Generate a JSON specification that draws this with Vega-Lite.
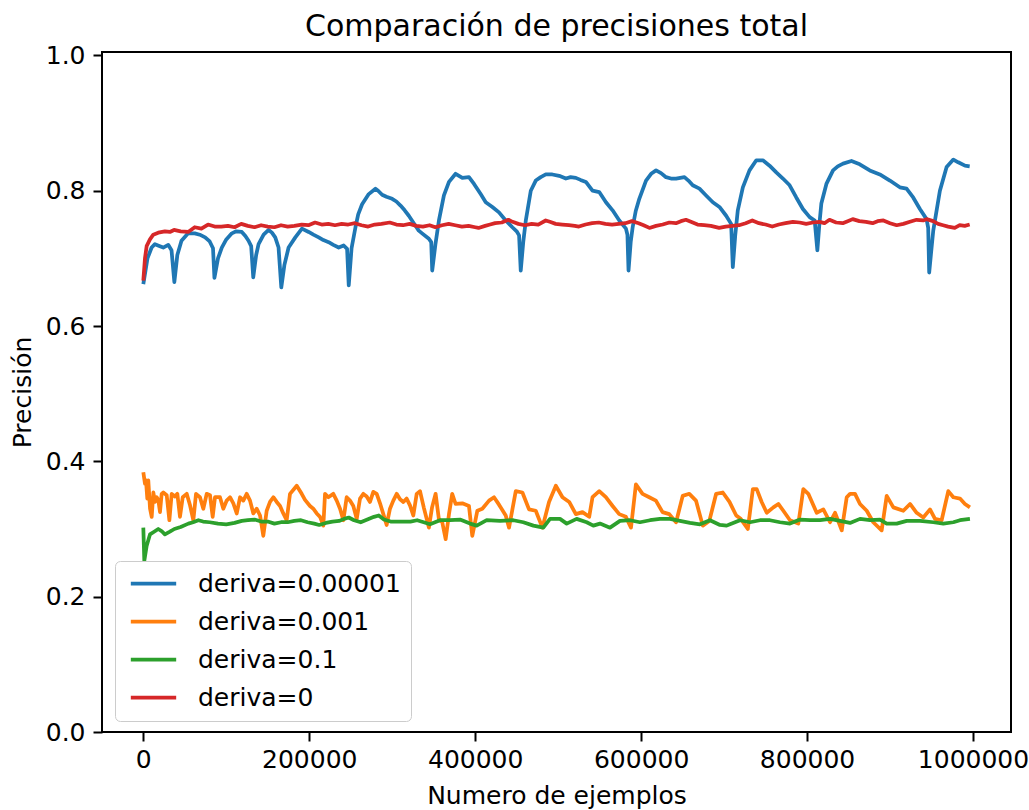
{
"$schema":"https://vega.github.io/schema/vega-lite/v6.json",
"width":909,"height":680,"autosize":"none",
"padding":{"left":102,"top":52,"right":18,"bottom":78},
"background":"white",
"config":{"view":{"stroke":"black","strokeWidth":2},"font":"DejaVu Sans"},
"title":{"text":"Comparación de precisiones total","fontSize":30,"font":"DejaVu Sans","fontWeight":"normal","color":"black","offset":-23,"baseline":"alphabetic"},
"data":{"values":[
{"s":"0.00001","x":0,"y":0.662},{"s":"0.00001","x":5000,"y":0.700},{"s":"0.00001","x":10000,"y":0.716},{"s":"0.00001","x":14000,"y":0.721},{"s":"0.00001","x":20000,"y":0.718},{"s":"0.00001","x":24000,"y":0.716},{"s":"0.00001","x":30000,"y":0.720},{"s":"0.00001","x":34000,"y":0.712},{"s":"0.00001","x":37400,"y":0.665},{"s":"0.00001","x":41000,"y":0.705},{"s":"0.00001","x":46000,"y":0.726},{"s":"0.00001","x":54000,"y":0.737},{"s":"0.00001","x":62000,"y":0.737},{"s":"0.00001","x":68000,"y":0.735},{"s":"0.00001","x":74500,"y":0.731},{"s":"0.00001","x":80000,"y":0.725},{"s":"0.00001","x":84000,"y":0.715},{"s":"0.00001","x":85700,"y":0.671},{"s":"0.00001","x":90000,"y":0.700},{"s":"0.00001","x":94600,"y":0.716},{"s":"0.00001","x":100000,"y":0.728},{"s":"0.00001","x":106700,"y":0.737},{"s":"0.00001","x":112000,"y":0.740},{"s":"0.00001","x":118700,"y":0.739},{"s":"0.00001","x":123000,"y":0.733},{"s":"0.00001","x":126800,"y":0.726},{"s":"0.00001","x":130000,"y":0.718},{"s":"0.00001","x":132500,"y":0.672},{"s":"0.00001","x":136000,"y":0.705},{"s":"0.00001","x":138900,"y":0.721},{"s":"0.00001","x":145000,"y":0.735},{"s":"0.00001","x":151000,"y":0.742},{"s":"0.00001","x":155000,"y":0.738},{"s":"0.00001","x":159000,"y":0.731},{"s":"0.00001","x":163000,"y":0.716},{"s":"0.00001","x":166300,"y":0.657},{"s":"0.00001","x":170000,"y":0.690},{"s":"0.00001","x":175100,"y":0.716},{"s":"0.00001","x":183200,"y":0.731},{"s":"0.00001","x":191200,"y":0.744},{"s":"0.00001","x":199300,"y":0.739},{"s":"0.00001","x":205000,"y":0.735},{"s":"0.00001","x":211400,"y":0.731},{"s":"0.00001","x":217000,"y":0.727},{"s":"0.00001","x":223400,"y":0.724},{"s":"0.00001","x":229000,"y":0.720},{"s":"0.00001","x":235500,"y":0.716},{"s":"0.00001","x":241500,"y":0.719},{"s":"0.00001","x":245600,"y":0.714},{"s":"0.00001","x":247600,"y":0.660},{"s":"0.00001","x":251000,"y":0.715},{"s":"0.00001","x":255700,"y":0.746},{"s":"0.00001","x":259000,"y":0.765},{"s":"0.00001","x":263700,"y":0.780},{"s":"0.00001","x":271700,"y":0.795},{"s":"0.00001","x":279800,"y":0.803},{"s":"0.00001","x":283000,"y":0.800},{"s":"0.00001","x":287800,"y":0.794},{"s":"0.00001","x":293000,"y":0.791},{"s":"0.00001","x":299900,"y":0.788},{"s":"0.00001","x":305000,"y":0.784},{"s":"0.00001","x":310000,"y":0.778},{"s":"0.00001","x":315000,"y":0.771},{"s":"0.00001","x":320000,"y":0.763},{"s":"0.00001","x":326000,"y":0.752},{"s":"0.00001","x":332000,"y":0.741},{"s":"0.00001","x":336000,"y":0.737},{"s":"0.00001","x":344200,"y":0.729},{"s":"0.00001","x":347000,"y":0.724},{"s":"0.00001","x":348200,"y":0.682},{"s":"0.00001","x":352000,"y":0.720},{"s":"0.00001","x":356300,"y":0.756},{"s":"0.00001","x":362300,"y":0.793},{"s":"0.00001","x":368400,"y":0.813},{"s":"0.00001","x":376400,"y":0.825},{"s":"0.00001","x":384500,"y":0.819},{"s":"0.00001","x":392500,"y":0.820},{"s":"0.00001","x":398600,"y":0.810},{"s":"0.00001","x":406600,"y":0.795},{"s":"0.00001","x":412700,"y":0.783},{"s":"0.00001","x":420700,"y":0.776},{"s":"0.00001","x":428700,"y":0.768},{"s":"0.00001","x":436800,"y":0.756},{"s":"0.00001","x":444800,"y":0.746},{"s":"0.00001","x":450000,"y":0.740},{"s":"0.00001","x":452900,"y":0.734},{"s":"0.00001","x":454900,"y":0.682},{"s":"0.00001","x":458000,"y":0.725},{"s":"0.00001","x":461000,"y":0.756},{"s":"0.00001","x":467000,"y":0.800},{"s":"0.00001","x":473000,"y":0.815},{"s":"0.00001","x":479000,"y":0.820},{"s":"0.00001","x":485100,"y":0.824},{"s":"0.00001","x":493000,"y":0.824},{"s":"0.00001","x":501200,"y":0.822},{"s":"0.00001","x":509300,"y":0.818},{"s":"0.00001","x":515000,"y":0.820},{"s":"0.00001","x":521300,"y":0.819},{"s":"0.00001","x":527000,"y":0.816},{"s":"0.00001","x":533400,"y":0.813},{"s":"0.00001","x":541400,"y":0.800},{"s":"0.00001","x":549500,"y":0.798},{"s":"0.00001","x":557600,"y":0.783},{"s":"0.00001","x":565600,"y":0.771},{"s":"0.00001","x":573700,"y":0.756},{"s":"0.00001","x":581700,"y":0.744},{"s":"0.00001","x":583500,"y":0.735},{"s":"0.00001","x":584800,"y":0.682},{"s":"0.00001","x":587500,"y":0.725},{"s":"0.00001","x":589800,"y":0.746},{"s":"0.00001","x":593500,"y":0.770},{"s":"0.00001","x":597800,"y":0.788},{"s":"0.00001","x":605900,"y":0.815},{"s":"0.00001","x":612000,"y":0.825},{"s":"0.00001","x":618000,"y":0.830},{"s":"0.00001","x":624000,"y":0.826},{"s":"0.00001","x":630000,"y":0.820},{"s":"0.00001","x":636000,"y":0.818},{"s":"0.00001","x":642100,"y":0.818},{"s":"0.00001","x":652200,"y":0.820},{"s":"0.00001","x":657000,"y":0.815},{"s":"0.00001","x":662200,"y":0.808},{"s":"0.00001","x":670300,"y":0.803},{"s":"0.00001","x":678300,"y":0.793},{"s":"0.00001","x":686400,"y":0.783},{"s":"0.00001","x":694400,"y":0.776},{"s":"0.00001","x":702500,"y":0.763},{"s":"0.00001","x":708500,"y":0.751},{"s":"0.00001","x":710500,"y":0.687},{"s":"0.00001","x":713500,"y":0.735},{"s":"0.00001","x":716500,"y":0.771},{"s":"0.00001","x":722600,"y":0.805},{"s":"0.00001","x":730600,"y":0.830},{"s":"0.00001","x":738800,"y":0.845},{"s":"0.00001","x":746700,"y":0.845},{"s":"0.00001","x":754800,"y":0.837},{"s":"0.00001","x":762900,"y":0.827},{"s":"0.00001","x":770900,"y":0.818},{"s":"0.00001","x":779000,"y":0.808},{"s":"0.00001","x":787000,"y":0.790},{"s":"0.00001","x":795000,"y":0.773},{"s":"0.00001","x":803100,"y":0.761},{"s":"0.00001","x":809200,"y":0.756},{"s":"0.00001","x":812400,"y":0.712},{"s":"0.00001","x":814800,"y":0.750},{"s":"0.00001","x":817200,"y":0.781},{"s":"0.00001","x":823300,"y":0.810},{"s":"0.00001","x":831300,"y":0.830},{"s":"0.00001","x":837000,"y":0.836},{"s":"0.00001","x":843400,"y":0.840},{"s":"0.00001","x":853500,"y":0.844},{"s":"0.00001","x":863500,"y":0.839},{"s":"0.00001","x":875600,"y":0.830},{"s":"0.00001","x":887700,"y":0.824},{"s":"0.00001","x":899800,"y":0.815},{"s":"0.00001","x":911800,"y":0.805},{"s":"0.00001","x":919900,"y":0.803},{"s":"0.00001","x":927900,"y":0.790},{"s":"0.00001","x":936000,"y":0.773},{"s":"0.00001","x":944000,"y":0.758},{"s":"0.00001","x":946000,"y":0.745},{"s":"0.00001","x":947200,"y":0.679},{"s":"0.00001","x":950000,"y":0.715},{"s":"0.00001","x":952100,"y":0.741},{"s":"0.00001","x":960100,"y":0.800},{"s":"0.00001","x":968200,"y":0.835},{"s":"0.00001","x":976300,"y":0.846},{"s":"0.00001","x":982200,"y":0.842},{"s":"0.00001","x":990300,"y":0.837},{"s":"0.00001","x":996000,"y":0.836},
{"s":"0.001","x":0,"y":0.384},{"s":"0.001","x":2000,"y":0.367},{"s":"0.001","x":3200,"y":0.372},{"s":"0.001","x":4800,"y":0.345},{"s":"0.001","x":6000,"y":0.372},{"s":"0.001","x":8100,"y":0.330},{"s":"0.001","x":10100,"y":0.318},{"s":"0.001","x":12100,"y":0.354},{"s":"0.001","x":14100,"y":0.340},{"s":"0.001","x":16100,"y":0.347},{"s":"0.001","x":18100,"y":0.343},{"s":"0.001","x":20100,"y":0.325},{"s":"0.001","x":22100,"y":0.352},{"s":"0.001","x":24100,"y":0.354},{"s":"0.001","x":28200,"y":0.350},{"s":"0.001","x":31400,"y":0.313},{"s":"0.001","x":34200,"y":0.352},{"s":"0.001","x":38200,"y":0.348},{"s":"0.001","x":41000,"y":0.352},{"s":"0.001","x":44200,"y":0.318},{"s":"0.001","x":47500,"y":0.347},{"s":"0.001","x":52300,"y":0.352},{"s":"0.001","x":56300,"y":0.335},{"s":"0.001","x":60300,"y":0.313},{"s":"0.001","x":63500,"y":0.352},{"s":"0.001","x":68300,"y":0.347},{"s":"0.001","x":72300,"y":0.330},{"s":"0.001","x":76400,"y":0.352},{"s":"0.001","x":80400,"y":0.350},{"s":"0.001","x":83600,"y":0.318},{"s":"0.001","x":86400,"y":0.347},{"s":"0.001","x":92400,"y":0.347},{"s":"0.001","x":96400,"y":0.330},{"s":"0.001","x":100500,"y":0.342},{"s":"0.001","x":104500,"y":0.347},{"s":"0.001","x":108500,"y":0.338},{"s":"0.001","x":112600,"y":0.323},{"s":"0.001","x":116600,"y":0.347},{"s":"0.001","x":120500,"y":0.342},{"s":"0.001","x":124600,"y":0.352},{"s":"0.001","x":128600,"y":0.342},{"s":"0.001","x":132600,"y":0.323},{"s":"0.001","x":136700,"y":0.330},{"s":"0.001","x":140700,"y":0.320},{"s":"0.001","x":144600,"y":0.290},{"s":"0.001","x":148700,"y":0.327},{"s":"0.001","x":152700,"y":0.340},{"s":"0.001","x":156700,"y":0.347},{"s":"0.001","x":160800,"y":0.340},{"s":"0.001","x":164800,"y":0.334},{"s":"0.001","x":168700,"y":0.323},{"s":"0.001","x":172800,"y":0.313},{"s":"0.001","x":176800,"y":0.352},{"s":"0.001","x":184900,"y":0.364},{"s":"0.001","x":190900,"y":0.352},{"s":"0.001","x":194900,"y":0.343},{"s":"0.001","x":200900,"y":0.334},{"s":"0.001","x":204900,"y":0.330},{"s":"0.001","x":209000,"y":0.323},{"s":"0.001","x":213000,"y":0.318},{"s":"0.001","x":217000,"y":0.305},{"s":"0.001","x":219000,"y":0.352},{"s":"0.001","x":223000,"y":0.347},{"s":"0.001","x":229000,"y":0.352},{"s":"0.001","x":233100,"y":0.342},{"s":"0.001","x":237100,"y":0.330},{"s":"0.001","x":241100,"y":0.313},{"s":"0.001","x":245100,"y":0.347},{"s":"0.001","x":249100,"y":0.342},{"s":"0.001","x":253100,"y":0.334},{"s":"0.001","x":257200,"y":0.315},{"s":"0.001","x":261200,"y":0.345},{"s":"0.001","x":265200,"y":0.352},{"s":"0.001","x":269200,"y":0.348},{"s":"0.001","x":273200,"y":0.340},{"s":"0.001","x":277200,"y":0.355},{"s":"0.001","x":281300,"y":0.352},{"s":"0.001","x":285300,"y":0.338},{"s":"0.001","x":289300,"y":0.322},{"s":"0.001","x":293300,"y":0.306},{"s":"0.001","x":297300,"y":0.330},{"s":"0.001","x":301300,"y":0.342},{"s":"0.001","x":305400,"y":0.352},{"s":"0.001","x":309400,"y":0.344},{"s":"0.001","x":313400,"y":0.340},{"s":"0.001","x":317400,"y":0.345},{"s":"0.001","x":321400,"y":0.335},{"s":"0.001","x":325400,"y":0.320},{"s":"0.001","x":329500,"y":0.352},{"s":"0.001","x":333500,"y":0.356},{"s":"0.001","x":338000,"y":0.332},{"s":"0.001","x":344200,"y":0.302},{"s":"0.001","x":348000,"y":0.332},{"s":"0.001","x":352300,"y":0.352},{"s":"0.001","x":356300,"y":0.314},{"s":"0.001","x":360300,"y":0.310},{"s":"0.001","x":364400,"y":0.285},{"s":"0.001","x":368400,"y":0.322},{"s":"0.001","x":372300,"y":0.352},{"s":"0.001","x":376400,"y":0.337},{"s":"0.001","x":384500,"y":0.338},{"s":"0.001","x":392500,"y":0.334},{"s":"0.001","x":396500,"y":0.290},{"s":"0.001","x":402600,"y":0.327},{"s":"0.001","x":408600,"y":0.330},{"s":"0.001","x":416700,"y":0.342},{"s":"0.001","x":422700,"y":0.347},{"s":"0.001","x":428700,"y":0.336},{"s":"0.001","x":436800,"y":0.320},{"s":"0.001","x":440800,"y":0.302},{"s":"0.001","x":448900,"y":0.356},{"s":"0.001","x":456900,"y":0.354},{"s":"0.001","x":464900,"y":0.329},{"s":"0.001","x":473000,"y":0.327},{"s":"0.001","x":481000,"y":0.302},{"s":"0.001","x":489000,"y":0.340},{"s":"0.001","x":497200,"y":0.364},{"s":"0.001","x":505200,"y":0.347},{"s":"0.001","x":513300,"y":0.340},{"s":"0.001","x":521300,"y":0.322},{"s":"0.001","x":529300,"y":0.325},{"s":"0.001","x":537400,"y":0.318},{"s":"0.001","x":541400,"y":0.347},{"s":"0.001","x":549500,"y":0.356},{"s":"0.001","x":557500,"y":0.347},{"s":"0.001","x":565600,"y":0.334},{"s":"0.001","x":573600,"y":0.322},{"s":"0.001","x":581600,"y":0.318},{"s":"0.001","x":587800,"y":0.302},{"s":"0.001","x":593700,"y":0.366},{"s":"0.001","x":601700,"y":0.352},{"s":"0.001","x":609800,"y":0.347},{"s":"0.001","x":617800,"y":0.342},{"s":"0.001","x":625800,"y":0.325},{"s":"0.001","x":633900,"y":0.322},{"s":"0.001","x":642100,"y":0.310},{"s":"0.001","x":650100,"y":0.349},{"s":"0.001","x":658100,"y":0.352},{"s":"0.001","x":666100,"y":0.342},{"s":"0.001","x":674300,"y":0.305},{"s":"0.001","x":682200,"y":0.312},{"s":"0.001","x":690400,"y":0.352},{"s":"0.001","x":698400,"y":0.354},{"s":"0.001","x":706500,"y":0.340},{"s":"0.001","x":714600,"y":0.320},{"s":"0.001","x":720000,"y":0.315},{"s":"0.001","x":728600,"y":0.300},{"s":"0.001","x":734700,"y":0.359},{"s":"0.001","x":739300,"y":0.359},{"s":"0.001","x":745300,"y":0.340},{"s":"0.001","x":751400,"y":0.324},{"s":"0.001","x":759400,"y":0.332},{"s":"0.001","x":765400,"y":0.337},{"s":"0.001","x":771400,"y":0.327},{"s":"0.001","x":779400,"y":0.313},{"s":"0.001","x":789500,"y":0.308},{"s":"0.001","x":795500,"y":0.359},{"s":"0.001","x":801500,"y":0.352},{"s":"0.001","x":811600,"y":0.324},{"s":"0.001","x":819600,"y":0.329},{"s":"0.001","x":827700,"y":0.310},{"s":"0.001","x":833700,"y":0.324},{"s":"0.001","x":841800,"y":0.298},{"s":"0.001","x":847800,"y":0.347},{"s":"0.001","x":851800,"y":0.352},{"s":"0.001","x":857800,"y":0.352},{"s":"0.001","x":863800,"y":0.337},{"s":"0.001","x":871900,"y":0.327},{"s":"0.001","x":879800,"y":0.310},{"s":"0.001","x":889900,"y":0.298},{"s":"0.001","x":896000,"y":0.349},{"s":"0.001","x":904000,"y":0.332},{"s":"0.001","x":916000,"y":0.327},{"s":"0.001","x":924100,"y":0.337},{"s":"0.001","x":932100,"y":0.324},{"s":"0.001","x":940100,"y":0.317},{"s":"0.001","x":948200,"y":0.329},{"s":"0.001","x":954200,"y":0.315},{"s":"0.001","x":962200,"y":0.313},{"s":"0.001","x":970200,"y":0.356},{"s":"0.001","x":976300,"y":0.347},{"s":"0.001","x":984300,"y":0.345},{"s":"0.001","x":990300,"y":0.337},{"s":"0.001","x":996300,"y":0.332},
{"s":"0.1","x":0,"y":0.302},{"s":"0.1","x":1200,"y":0.253},{"s":"0.1","x":4000,"y":0.275},{"s":"0.1","x":8000,"y":0.292},{"s":"0.1","x":13000,"y":0.296},{"s":"0.1","x":18000,"y":0.300},{"s":"0.1","x":22000,"y":0.297},{"s":"0.1","x":26000,"y":0.292},{"s":"0.1","x":32000,"y":0.296},{"s":"0.1","x":37400,"y":0.300},{"s":"0.1","x":45000,"y":0.303},{"s":"0.1","x":54300,"y":0.308},{"s":"0.1","x":60000,"y":0.310},{"s":"0.1","x":66400,"y":0.313},{"s":"0.1","x":72000,"y":0.311},{"s":"0.1","x":80000,"y":0.310},{"s":"0.1","x":90000,"y":0.308},{"s":"0.1","x":100000,"y":0.307},{"s":"0.1","x":110000,"y":0.309},{"s":"0.1","x":118700,"y":0.312},{"s":"0.1","x":126000,"y":0.313},{"s":"0.1","x":134000,"y":0.314},{"s":"0.1","x":142000,"y":0.311},{"s":"0.1","x":150000,"y":0.311},{"s":"0.1","x":158000,"y":0.308},{"s":"0.1","x":166000,"y":0.310},{"s":"0.1","x":174000,"y":0.310},{"s":"0.1","x":182000,"y":0.312},{"s":"0.1","x":190000,"y":0.313},{"s":"0.1","x":198000,"y":0.310},{"s":"0.1","x":206000,"y":0.308},{"s":"0.1","x":212000,"y":0.306},{"s":"0.1","x":220000,"y":0.309},{"s":"0.1","x":228000,"y":0.311},{"s":"0.1","x":236000,"y":0.312},{"s":"0.1","x":242000,"y":0.315},{"s":"0.1","x":247600,"y":0.317},{"s":"0.1","x":254000,"y":0.313},{"s":"0.1","x":262000,"y":0.310},{"s":"0.1","x":270000,"y":0.314},{"s":"0.1","x":278000,"y":0.318},{"s":"0.1","x":283800,"y":0.320},{"s":"0.1","x":290000,"y":0.314},{"s":"0.1","x":298000,"y":0.311},{"s":"0.1","x":306000,"y":0.311},{"s":"0.1","x":314000,"y":0.311},{"s":"0.1","x":322000,"y":0.311},{"s":"0.1","x":330000,"y":0.313},{"s":"0.1","x":338000,"y":0.310},{"s":"0.1","x":345500,"y":0.307},{"s":"0.1","x":357600,"y":0.313},{"s":"0.1","x":369700,"y":0.313},{"s":"0.1","x":381700,"y":0.314},{"s":"0.1","x":393800,"y":0.308},{"s":"0.1","x":401800,"y":0.305},{"s":"0.1","x":413900,"y":0.313},{"s":"0.1","x":429900,"y":0.312},{"s":"0.1","x":446000,"y":0.313},{"s":"0.1","x":458000,"y":0.310},{"s":"0.1","x":470100,"y":0.305},{"s":"0.1","x":482100,"y":0.302},{"s":"0.1","x":490200,"y":0.315},{"s":"0.1","x":502200,"y":0.315},{"s":"0.1","x":510300,"y":0.308},{"s":"0.1","x":522300,"y":0.315},{"s":"0.1","x":534400,"y":0.310},{"s":"0.1","x":542400,"y":0.305},{"s":"0.1","x":550400,"y":0.308},{"s":"0.1","x":562500,"y":0.302},{"s":"0.1","x":574500,"y":0.312},{"s":"0.1","x":586600,"y":0.313},{"s":"0.1","x":598600,"y":0.310},{"s":"0.1","x":610700,"y":0.313},{"s":"0.1","x":622700,"y":0.315},{"s":"0.1","x":634800,"y":0.315},{"s":"0.1","x":646800,"y":0.312},{"s":"0.1","x":658900,"y":0.309},{"s":"0.1","x":670900,"y":0.307},{"s":"0.1","x":683000,"y":0.313},{"s":"0.1","x":695000,"y":0.306},{"s":"0.1","x":703100,"y":0.305},{"s":"0.1","x":707100,"y":0.307},{"s":"0.1","x":719200,"y":0.313},{"s":"0.1","x":731200,"y":0.310},{"s":"0.1","x":743300,"y":0.313},{"s":"0.1","x":755300,"y":0.313},{"s":"0.1","x":767400,"y":0.310},{"s":"0.1","x":779400,"y":0.308},{"s":"0.1","x":791500,"y":0.314},{"s":"0.1","x":803500,"y":0.313},{"s":"0.1","x":815600,"y":0.313},{"s":"0.1","x":827700,"y":0.315},{"s":"0.1","x":839700,"y":0.312},{"s":"0.1","x":851800,"y":0.309},{"s":"0.1","x":863800,"y":0.315},{"s":"0.1","x":875900,"y":0.313},{"s":"0.1","x":887900,"y":0.314},{"s":"0.1","x":896000,"y":0.308},{"s":"0.1","x":908000,"y":0.308},{"s":"0.1","x":920100,"y":0.312},{"s":"0.1","x":936100,"y":0.312},{"s":"0.1","x":952200,"y":0.310},{"s":"0.1","x":964200,"y":0.308},{"s":"0.1","x":976300,"y":0.310},{"s":"0.1","x":984300,"y":0.313},{"s":"0.1","x":996300,"y":0.315},
{"s":"0","x":0,"y":0.667},{"s":"0","x":2000,"y":0.700},{"s":"0","x":4000,"y":0.718},{"s":"0","x":8000,"y":0.728},{"s":"0","x":12000,"y":0.735},{"s":"0","x":18000,"y":0.738},{"s":"0","x":26000,"y":0.740},{"s":"0","x":32000,"y":0.739},{"s":"0","x":37000,"y":0.742},{"s":"0","x":45000,"y":0.740},{"s":"0","x":54000,"y":0.739},{"s":"0","x":62000,"y":0.746},{"s":"0","x":70000,"y":0.744},{"s":"0","x":78000,"y":0.750},{"s":"0","x":86000,"y":0.747},{"s":"0","x":94000,"y":0.747},{"s":"0","x":102000,"y":0.748},{"s":"0","x":110000,"y":0.746},{"s":"0","x":118000,"y":0.751},{"s":"0","x":126000,"y":0.748},{"s":"0","x":134000,"y":0.746},{"s":"0","x":142000,"y":0.749},{"s":"0","x":150000,"y":0.747},{"s":"0","x":158000,"y":0.746},{"s":"0","x":166000,"y":0.749},{"s":"0","x":174000,"y":0.747},{"s":"0","x":182000,"y":0.748},{"s":"0","x":191000,"y":0.750},{"s":"0","x":199000,"y":0.749},{"s":"0","x":207000,"y":0.753},{"s":"0","x":215000,"y":0.750},{"s":"0","x":223000,"y":0.751},{"s":"0","x":231000,"y":0.749},{"s":"0","x":239000,"y":0.751},{"s":"0","x":247000,"y":0.750},{"s":"0","x":255000,"y":0.752},{"s":"0","x":263000,"y":0.749},{"s":"0","x":271000,"y":0.747},{"s":"0","x":279000,"y":0.750},{"s":"0","x":287000,"y":0.751},{"s":"0","x":297000,"y":0.753},{"s":"0","x":305000,"y":0.750},{"s":"0","x":313000,"y":0.749},{"s":"0","x":321000,"y":0.751},{"s":"0","x":329000,"y":0.748},{"s":"0","x":337000,"y":0.747},{"s":"0","x":345000,"y":0.749},{"s":"0","x":352000,"y":0.746},{"s":"0","x":360000,"y":0.749},{"s":"0","x":368000,"y":0.751},{"s":"0","x":376000,"y":0.749},{"s":"0","x":384000,"y":0.747},{"s":"0","x":392000,"y":0.748},{"s":"0","x":400000,"y":0.746},{"s":"0","x":404000,"y":0.745},{"s":"0","x":412000,"y":0.748},{"s":"0","x":418000,"y":0.750},{"s":"0","x":424000,"y":0.752},{"s":"0","x":432000,"y":0.753},{"s":"0","x":440000,"y":0.757},{"s":"0","x":445000,"y":0.754},{"s":"0","x":452000,"y":0.751},{"s":"0","x":460000,"y":0.749},{"s":"0","x":468000,"y":0.751},{"s":"0","x":476000,"y":0.750},{"s":"0","x":485000,"y":0.756},{"s":"0","x":490000,"y":0.754},{"s":"0","x":497000,"y":0.751},{"s":"0","x":505000,"y":0.750},{"s":"0","x":513000,"y":0.749},{"s":"0","x":520000,"y":0.748},{"s":"0","x":525000,"y":0.747},{"s":"0","x":533000,"y":0.750},{"s":"0","x":541000,"y":0.752},{"s":"0","x":549000,"y":0.753},{"s":"0","x":557000,"y":0.751},{"s":"0","x":565000,"y":0.750},{"s":"0","x":573000,"y":0.751},{"s":"0","x":581000,"y":0.752},{"s":"0","x":589000,"y":0.755},{"s":"0","x":597000,"y":0.752},{"s":"0","x":603000,"y":0.749},{"s":"0","x":610000,"y":0.745},{"s":"0","x":618000,"y":0.748},{"s":"0","x":626000,"y":0.750},{"s":"0","x":634000,"y":0.753},{"s":"0","x":642000,"y":0.752},{"s":"0","x":648000,"y":0.755},{"s":"0","x":654000,"y":0.757},{"s":"0","x":660000,"y":0.754},{"s":"0","x":668000,"y":0.750},{"s":"0","x":676000,"y":0.749},{"s":"0","x":684000,"y":0.748},{"s":"0","x":694000,"y":0.745},{"s":"0","x":702000,"y":0.747},{"s":"0","x":710000,"y":0.748},{"s":"0","x":718000,"y":0.749},{"s":"0","x":726000,"y":0.752},{"s":"0","x":734000,"y":0.756},{"s":"0","x":742000,"y":0.752},{"s":"0","x":750000,"y":0.750},{"s":"0","x":758000,"y":0.747},{"s":"0","x":766000,"y":0.750},{"s":"0","x":774000,"y":0.752},{"s":"0","x":783000,"y":0.754},{"s":"0","x":791000,"y":0.753},{"s":"0","x":799000,"y":0.751},{"s":"0","x":807000,"y":0.753},{"s":"0","x":815000,"y":0.754},{"s":"0","x":821000,"y":0.752},{"s":"0","x":827000,"y":0.757},{"s":"0","x":835000,"y":0.753},{"s":"0","x":843000,"y":0.752},{"s":"0","x":849000,"y":0.755},{"s":"0","x":855000,"y":0.758},{"s":"0","x":863000,"y":0.755},{"s":"0","x":871000,"y":0.754},{"s":"0","x":879000,"y":0.752},{"s":"0","x":885000,"y":0.755},{"s":"0","x":892000,"y":0.756},{"s":"0","x":900000,"y":0.752},{"s":"0","x":908000,"y":0.749},{"s":"0","x":916000,"y":0.751},{"s":"0","x":924000,"y":0.754},{"s":"0","x":932000,"y":0.757},{"s":"0","x":940000,"y":0.756},{"s":"0","x":944000,"y":0.758},{"s":"0","x":952000,"y":0.755},{"s":"0","x":958000,"y":0.751},{"s":"0","x":964000,"y":0.749},{"s":"0","x":970000,"y":0.747},{"s":"0","x":978000,"y":0.745},{"s":"0","x":984000,"y":0.749},{"s":"0","x":990000,"y":0.748},{"s":"0","x":996000,"y":0.750}
]},
"encoding":{
"x":{"field":"x","type":"quantitative","scale":{"domain":[-49800,1045800],"nice":false,"zero":false},
 "axis":{"values":[0,200000,400000,600000,800000,1000000],"format":"d","grid":false,"domain":false,"tickColor":"black","tickWidth":2,"tickSize":9,"labelFontSize":25,"labelFont":"DejaVu Sans","labelColor":"black","labelBaseline":"alphabetic","labelPadding":26,"labelFlush":false,"labelOverlap":false,"title":"Numero de ejemplos","titleFontSize":25,"titleFont":"DejaVu Sans","titleFontWeight":"normal","titleColor":"black","titleBaseline":"alphabetic","titleY":71}},
"y":{"field":"y","type":"quantitative","scale":{"domain":[0,1.005],"nice":false,"zero":false},
 "axis":{"values":[0,0.2,0.4,0.6,0.8,1.0],"format":".1f","grid":false,"domain":false,"tickColor":"black","tickWidth":2,"tickSize":9,"labelFontSize":25,"labelFont":"DejaVu Sans","labelColor":"black","labelPadding":8,"labelFlush":false,"labelOverlap":false,"title":"Precisión","titleFontSize":25,"titleFont":"DejaVu Sans","titleFontWeight":"normal","titleColor":"black","titleBaseline":"alphabetic","titleAngle":-90,"titleAlign":"center","titleX":-72,"titleY":340}},
"color":{"field":"s","type":"nominal","scale":{"domain":["0.00001","0.001","0.1","0"],"range":["#1f77b4","#ff7f0e","#2ca02c","#d62728"]},
 "legend":{"title":null,"orient":"none","legendX":13,"legendY":509,"padding":10,"fillColor":"white","strokeColor":"#cccccc","cornerRadius":5,"symbolType":"M-2.16,0H2.16","symbolSize":441,"symbolStrokeWidth":3.75,"symbolOffset":16,"labelFontSize":25,"labelFont":"DejaVu Sans","labelColor":"black","labelOffset":32,"labelLimit":400,"rowPadding":12,"labelExpr":"'deriva=' + datum.label"}}
},
"layer":[
{"transform":[{"filter":"datum.s === '0.00001'"}],"mark":{"type":"line","strokeWidth":3.75,"strokeJoin":"round"}},
{"transform":[{"filter":"datum.s === '0.001'"}],"mark":{"type":"line","strokeWidth":3.75,"strokeJoin":"round"}},
{"transform":[{"filter":"datum.s === '0.1'"}],"mark":{"type":"line","strokeWidth":3.75,"strokeJoin":"round"}},
{"transform":[{"filter":"datum.s === '0'"}],"mark":{"type":"line","strokeWidth":3.75,"strokeJoin":"round"}}
]
}
